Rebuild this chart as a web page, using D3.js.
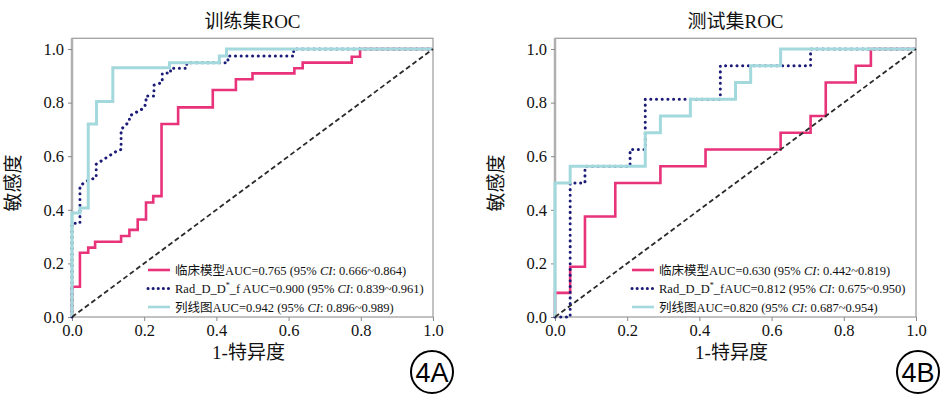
<!DOCTYPE html>
<html>
<head>
<meta charset="utf-8">
<script src="https://cdn.jsdelivr.net/npm/d3@7"></script>
<style>
  body { margin: 0; background: #fff; }
  text { font-family: "Liberation Serif", "Noto Sans CJK SC", serif; }
</style>
</head>
<body>
<div id="chart"></div>
<script>
// chart size
const width = 945;
const height = 395;

const ticks = [0, 0.2, 0.4, 0.6, 0.8, 1.0];

// training set ROC (corner points)
const trainClinFpr = [0, 0, 0.022, 0.022, 0.045, 0.045, 0.064, 0.064, 0.136, 0.136, 0.159, 0.159, 0.182, 0.182, 0.205, 0.205, 0.225, 0.225, 0.248, 0.248, 0.294, 0.294, 0.39, 0.39, 0.454, 0.454, 0.5, 0.5, 0.616, 0.616, 0.639, 0.639, 0.775, 0.775, 0.798, 0.798, 1];
const trainClinTpr = [0, 0.113, 0.113, 0.24, 0.24, 0.259, 0.259, 0.281, 0.281, 0.302, 0.302, 0.325, 0.325, 0.364, 0.364, 0.427, 0.427, 0.451, 0.451, 0.72, 0.72, 0.782, 0.782, 0.847, 0.847, 0.887, 0.887, 0.909, 0.909, 0.928, 0.928, 0.949, 0.949, 0.971, 0.971, 1, 1];
const trainRadFpr = [0, 0, 0.022, 0.022, 0.045, 0.067, 0.067, 0.125, 0.136, 0.136, 0.159, 0.159, 0.2, 0.205, 0.205, 0.227, 0.227, 0.25, 0.25, 0.273, 0.273, 0.318, 0.318, 0.432, 0.432, 0.614, 0.614, 1];
const trainRadTpr = [0, 0.35, 0.35, 0.49, 0.51, 0.52, 0.57, 0.62, 0.625, 0.7, 0.73, 0.75, 0.78, 0.8, 0.825, 0.825, 0.865, 0.875, 0.91, 0.91, 0.928, 0.928, 0.949, 0.949, 0.974, 0.974, 1, 1];
const trainNomoFpr = [0, 0, 0.022, 0.022, 0.045, 0.045, 0.068, 0.068, 0.113, 0.113, 0.27, 0.27, 0.408, 0.408, 0.428, 0.428, 1];
const trainNomoTpr = [0, 0.388, 0.388, 0.407, 0.407, 0.72, 0.72, 0.804, 0.804, 0.93, 0.93, 0.949, 0.949, 0.974, 0.974, 1, 1];

// test set ROC
const testClinFpr = [0, 0, 0.042, 0.042, 0.083, 0.083, 0.167, 0.167, 0.292, 0.292, 0.417, 0.417, 0.625, 0.625, 0.708, 0.708, 0.75, 0.75, 0.833, 0.833, 0.875, 0.875, 1];
const testClinTpr = [0, 0.09, 0.09, 0.1875, 0.1875, 0.375, 0.375, 0.5, 0.5, 0.5625, 0.5625, 0.625, 0.625, 0.6875, 0.6875, 0.75, 0.75, 0.875, 0.875, 0.9375, 0.9375, 1, 1];
const testRadFpr = [0, 0.042, 0.042, 0.083, 0.083, 0.208, 0.208, 0.25, 0.25, 0.458, 0.458, 0.708, 0.708, 1];
const testRadTpr = [0, 0, 0.5, 0.5, 0.5625, 0.5625, 0.625, 0.625, 0.8125, 0.8125, 0.9375, 0.9375, 1, 1];
const testNomoFpr = [0, 0, 0.042, 0.042, 0.25, 0.25, 0.292, 0.292, 0.375, 0.375, 0.5, 0.5, 0.542, 0.542, 0.625, 0.625, 1];
const testNomoTpr = [0, 0.5, 0.5, 0.5625, 0.5625, 0.6875, 0.6875, 0.75, 0.75, 0.8125, 0.8125, 0.875, 0.875, 0.9375, 0.9375, 1, 1];

// legend texts
const trainAuc = [["临床模型", "0.765", "0.666~0.864"], ["Rad_D_D*_f ", "0.900", "0.839~0.961"], ["列线图", "0.942", "0.896~0.989"]];
const testAuc = [["临床模型", "0.630", "0.442~0.819"], ["Rad_D_D*_f", "0.812", "0.675~0.950"], ["列线图", "0.820", "0.687~0.954"]];

const colors = ["#e8327a", "#1b1b78", "#a3d9dd"];

const svg = d3.select("#chart").append("svg")
    .attr("width", width)
    .attr("height", height);

function zip(a, b) { return a.map((v, i) => [v, b[i]]); }

function drawPanel(opt) {
    const x = d3.scaleLinear().domain([0, 1]).range([opt.left, opt.right]);
    const y = d3.scaleLinear().domain([0, 1]).range([317, 49]);
    const yTop = y(1.04);

    const g = svg.append("g");

    // frame
    g.append("rect")
        .attr("x", opt.left).attr("y", yTop)
        .attr("width", opt.right - opt.left).attr("height", y(0) - yTop)
        .attr("fill", "none").attr("stroke", "#9a9a9a").attr("stroke-width", 1.2);
    g.append("line")
        .attr("x1", opt.left).attr("x2", opt.left).attr("y1", yTop).attr("y2", y(0))
        .attr("stroke", "#b0b0b0").attr("stroke-width", 2.5);

    // axes
    const xAxis = g.append("g").attr("transform", `translate(0,${y(0)})`)
        .call(d3.axisBottom(x).tickValues(ticks).tickFormat(d3.format(".1f")).tickSize(4).tickPadding(3));
    const yAxis = g.append("g").attr("transform", `translate(${opt.left},0)`)
        .call(d3.axisLeft(y).tickValues(ticks).tickFormat(d3.format(".1f")).tickSize(4).tickPadding(4));
    [xAxis, yAxis].forEach(a => {
        a.select(".domain").remove();
        a.selectAll(".tick line").attr("stroke", "#888");
        a.selectAll(".tick text")
            .style("font-family", "'Liberation Serif', serif")
            .style("font-size", "16.5px")
            .attr("fill", "#111");
    });

    // curves
    const line = d3.line().x(d => x(d[0])).y(d => y(d[1]));
    g.append("path").datum(opt.clin).attr("d", line)
        .attr("fill", "none").attr("stroke", colors[0]).attr("stroke-width", 2.6);
    g.append("path").datum(opt.rad).attr("d", line)
        .attr("fill", "none").attr("stroke", colors[1]).attr("stroke-width", 3)
        .attr("stroke-linecap", "round").attr("stroke-dasharray", "0.1,5.6");
    g.append("path").datum(opt.nomo).attr("d", line)
        .attr("fill", "none").attr("stroke", colors[2]).attr("stroke-width", 3);
    g.append("line")
        .attr("x1", x(0)).attr("y1", y(0)).attr("x2", x(1)).attr("y2", y(1))
        .attr("stroke", "#2a2a2a").attr("stroke-width", 1.8).attr("stroke-dasharray", "5,3");

    // legend
    const leg = g.append("g").attr("transform", `translate(${opt.legX},270)`);
    opt.auc.forEach((d, i) => {
        const row = leg.append("g").attr("transform", `translate(0,${i * 18.5})`);
        const ln = row.append("line").attr("x1", 0).attr("x2", 22).attr("y1", 0).attr("y2", 0)
            .attr("stroke", colors[i]).attr("stroke-width", i === 1 ? 3 : 2.6);
        if (i === 1) ln.attr("stroke-linecap", "round").attr("stroke-dasharray", "0.1,5");
        const t = row.append("text").attr("x", 27).attr("y", 4.5)
            .style("font-size", "12.5px").attr("fill", "#111");
        const name = d[0];
        if (name.indexOf("*") >= 0) {
            const parts = name.split("*");
            t.append("tspan").text(parts[0]);
            t.append("tspan").attr("dy", -5).style("font-size", "8px").text("*");
            t.append("tspan").attr("dy", 5).text(parts[1]);
        } else {
            t.append("tspan").text(name);
        }
        t.append("tspan").text(`AUC=${d[1]} (95% `);
        t.append("tspan").style("font-style", "italic").text("CI");
        t.append("tspan").text(`: ${d[2]})`);
    });

    // titles and labels
    g.append("text").attr("x", (opt.left + opt.right) / 2).attr("y", 28)
        .attr("text-anchor", "middle").style("font-size", "19px").attr("fill", "#111")
        .text(opt.title);
    g.append("text").attr("x", (opt.left + opt.right) / 2 - 4).attr("y", 359)
        .attr("text-anchor", "middle").style("font-size", "19px").attr("fill", "#111")
        .text("1-特异度");
    g.append("text")
        .attr("transform", `translate(${opt.left - 52},${y(0.5)}) rotate(-90)`)
        .attr("text-anchor", "middle").style("font-size", "19px").attr("fill", "#111")
        .text("敏感度");

    // panel tag
    const tag = g.append("g").attr("transform", `translate(${opt.tagX},372)`);
    tag.append("circle").attr("r", 21).attr("fill", "#fff").attr("stroke", "#000").attr("stroke-width", 2);
    tag.append("text").attr("text-anchor", "middle").attr("y", 9.5)
        .style("font-family", "'Liberation Sans', Arial, sans-serif").style("font-size", "27px")
        .attr("fill", "#000").text(opt.tag);
}

drawPanel({
    left: 72, right: 433, title: "训练集ROC", legX: 148, tagX: 432, tag: "4A",
    auc: trainAuc,
    clin: zip(trainClinFpr, trainClinTpr),
    rad: zip(trainRadFpr, trainRadTpr),
    nomo: zip(trainNomoFpr, trainNomoTpr)
});

drawPanel({
    left: 555, right: 916, title: "测试集ROC", legX: 632, tagX: 918, tag: "4B",
    auc: testAuc,
    clin: zip(testClinFpr, testClinTpr),
    rad: zip(testRadFpr, testRadTpr),
    nomo: zip(testNomoFpr, testNomoTpr)
});
</script>
</body>
</html>
